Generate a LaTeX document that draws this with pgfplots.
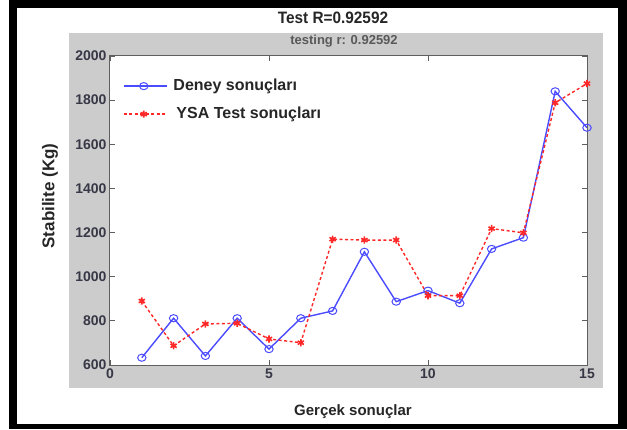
\documentclass[border=0pt]{standalone}
\usepackage{pgfplots}
\pgfplotsset{compat=1.18}
\usepackage{fontspec}
\setmainfont{Liberation Sans}

\definecolor{panelgray}{RGB}{204,204,204}
\definecolor{expblue}{RGB}{75,75,255}
\definecolor{annred}{RGB}{255,40,40}
\definecolor{boxgray}{RGB}{95,95,95}
\definecolor{labelgray}{RGB}{55,55,70}

\begin{document}
\begin{tikzpicture}
% frame and figure panel
\useasboundingbox (0pt,0pt) rectangle (627pt,429pt);
\fill[white] (0pt,0pt) rectangle (627pt,429pt);
\fill[black] (9pt,0pt) rectangle (627pt,429pt);
\fill[white] (17pt,5pt) rectangle (618pt,421pt);
\fill[panelgray] (69pt,41pt) rectangle (603pt,396pt);

\begin{axis}[
  at={(110pt,64pt)}, anchor=south west,
  scale only axis, width=477pt, height=309pt,
  xmin=0, xmax=15, ymin=600, ymax=2000,
  xtick={0,5,10,15}, ytick={600,800,...,2000},
  tick align=inside, major tick length=5pt,
  axis line style={boxgray, line width=1pt},
  tick style={boxgray, line width=0.8pt},
  axis background/.style={fill=white},
  ticklabel style={font=\fontsize{14}{14}\selectfont\bfseries, text=labelgray},
  /pgf/number format/assume math mode=true,
  /pgf/number format/1000 sep={},
  legend style={draw=none, fill=none, inner sep=0pt,
    anchor=north west, at={(axis description cs:0.027,0.929)},
    font=\fontsize{16}{16}\selectfont\bfseries, text=black!85,
    row sep=12pt,
    nodes={inner sep=0pt, text height=12pt, text depth=4pt},
    /tikz/every odd column/.append style={column sep=6pt}},
  legend cell align=left,
  legend image code/.code={\draw[mark repeat=2,mark phase=2,#1]
    plot coordinates {(0pt,0pt) (20pt,0pt) (43pt,0pt)};},
]
\addplot[expblue, line width=1.4pt, mark=o, mark size=4.2pt,
  mark options={solid, line width=1pt, yscale=0.85}]
  coordinates {(1,633) (2,812) (3,641) (4,812) (5,672) (6,812) (7,845)
    (8,1113) (9,887) (10,937) (11,880) (12,1126) (13,1177) (14,1840) (15,1675)};
\addlegendentry{Deney sonuçları}
\addplot[annred, line width=1.4pt, dash pattern=on 3pt off 2.5pt,
  mark=asterisk, mark size=3.6pt, mark options={solid, line width=1.6pt}]
  coordinates {(1,890) (2,687) (3,786) (4,789) (5,718) (6,701) (7,1170)
    (8,1166) (9,1166) (10,914) (11,914) (12,1218) (13,1199) (14,1788) (15,1875)};
\addlegendentry{\hspace{3pt}YSA Test sonuçları}
\end{axis}

% titles and axis labels
\node[anchor=base, font=\fontsize{16.5}{16.5}\selectfont\bfseries, text=black!85]
  at (333pt,405pt) {\scalebox{0.93}[1]{Test R=0.92592}};
\node[anchor=base, font=\fontsize{13}{13}\selectfont\bfseries, text=black!65]
  at (344pt,384pt) {testing r: 0.92592};
\node[rotate=90, font=\fontsize{17}{17}\selectfont\bfseries, text=black!85]
  at (50pt,233pt) {Stabilite (Kg)};
\node[anchor=base, font=\fontsize{15}{15}\selectfont\bfseries, text=black!85]
  at (353pt,14pt) {Gerçek sonuçlar};
\end{tikzpicture}
\end{document}
